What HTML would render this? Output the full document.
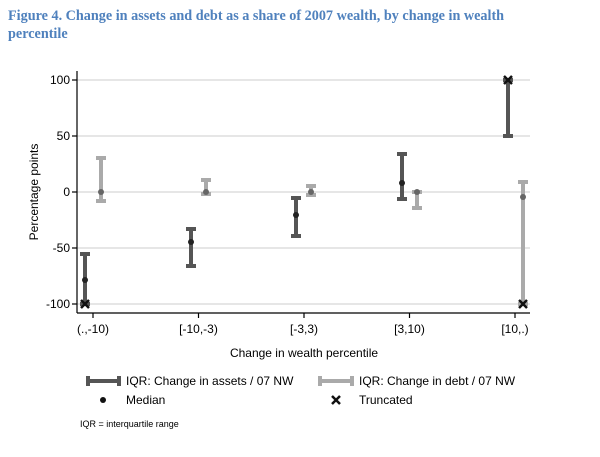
<!DOCTYPE html><html><head><style>body{margin:0;background:#fff;width:600px;height:452px;overflow:hidden}</style></head><body>
<svg width="600" height="452" xmlns="http://www.w3.org/2000/svg" font-family="Liberation Sans, sans-serif">
<text x="8" y="20" font-family="Liberation Serif, serif" font-weight="bold" font-size="14.2" fill="#4f81bd">Figure 4. Change in assets and debt as a share of 2007 wealth, by change in wealth</text>
<text x="8" y="38" font-family="Liberation Serif, serif" font-weight="bold" font-size="14.2" fill="#4f81bd">percentile</text>
<g stroke="#ccc" stroke-width="1">
<line x1="77" y1="80" x2="530" y2="80"/><line x1="77" y1="136" x2="530" y2="136"/><line x1="77" y1="192" x2="530" y2="192"/><line x1="77" y1="248" x2="530" y2="248"/><line x1="77" y1="304" x2="530" y2="304"/></g>
<g stroke="#000" stroke-width="1.2">
<line x1="77" y1="71" x2="77" y2="313"/><line x1="77" y1="313" x2="530" y2="313"/>
<line x1="72" y1="80" x2="77" y2="80"/><line x1="72" y1="136" x2="77" y2="136"/><line x1="72" y1="192" x2="77" y2="192"/><line x1="72" y1="248" x2="77" y2="248"/><line x1="72" y1="304" x2="77" y2="304"/>
<line x1="93" y1="313" x2="93" y2="318"/><line x1="198.5" y1="313" x2="198.5" y2="318"/><line x1="304" y1="313" x2="304" y2="318"/><line x1="409.5" y1="313" x2="409.5" y2="318"/><line x1="515" y1="313" x2="515" y2="318"/></g>
<g font-size="12" text-anchor="end"><text x="70" y="84">100</text><text x="70" y="140">50</text><text x="70" y="196">0</text><text x="70" y="252">-50</text><text x="70" y="308">-100</text></g>
<g font-size="12" text-anchor="middle"><text x="93" y="333">(.,-10)</text><text x="198.5" y="333">[-10,-3)</text><text x="304" y="333">[-3,3)</text><text x="409.5" y="333">[3,10)</text><text x="515" y="333">[10,.)</text>
<text x="304" y="357">Change in wealth percentile</text>
<text transform="translate(38,192) rotate(-90)">Percentage points</text></g>
<g stroke="#555" stroke-width="4">
<path d="M85 254V304M80 254H90M80 304H90"/>
<path d="M191 229V266M186 229H196M186 266H196"/>
<path d="M296 198V236M291 198H301M291 236H301"/>
<path d="M402 154V199M397 154H407M397 199H407"/>
<path d="M508 80V136M503 80H513M503 136H513"/></g>
<g stroke="#aaa" stroke-width="4">
<path d="M101 158V201M96 158H106M96 201H106"/>
<path d="M206 180V194M201 180H211M201 194H211"/>
<path d="M311 186V195M306 186H316M306 195H316"/>
<path d="M417 192V208M412 192H422M412 208H422"/>
<path d="M523 182V304M518 182H528M518 304H528"/></g>
<g fill="#222"><circle cx="85" cy="280" r="3"/><circle cx="191" cy="242" r="3"/><circle cx="296" cy="215" r="3"/><circle cx="402" cy="183" r="3"/></g>
<g fill="#666"><circle cx="101" cy="192" r="3"/><circle cx="206" cy="192" r="3"/><circle cx="311" cy="192" r="3"/><circle cx="417" cy="192" r="3"/><circle cx="523" cy="197" r="3"/></g>
<g stroke="#111" stroke-width="2.5"><path d="M81 300L89 308M89 300L81 308"/><path d="M504 76L512 84M512 76L504 84"/><path d="M519 300L527 308M527 300L519 308"/></g>
<g stroke="#555" stroke-width="4"><path d="M88 381H119M88 376V386M119 376V386"/></g>
<g stroke="#aaa" stroke-width="4"><path d="M320 381H352M320 376V386M352 376V386"/></g>
<g font-size="12"><text x="126" y="385">IQR: Change in assets / 07 NW</text><text x="359" y="385">IQR: Change in debt / 07 NW</text>
<text x="126" y="404">Median</text><text x="359" y="404">Truncated</text></g>
<circle cx="103" cy="400" r="3" fill="#111"/>
<path d="M332 396L340 404M340 396L332 404" stroke="#111" stroke-width="2.5"/>
<text x="80" y="427" font-size="9">IQR = interquartile range</text>
</svg></body></html>
